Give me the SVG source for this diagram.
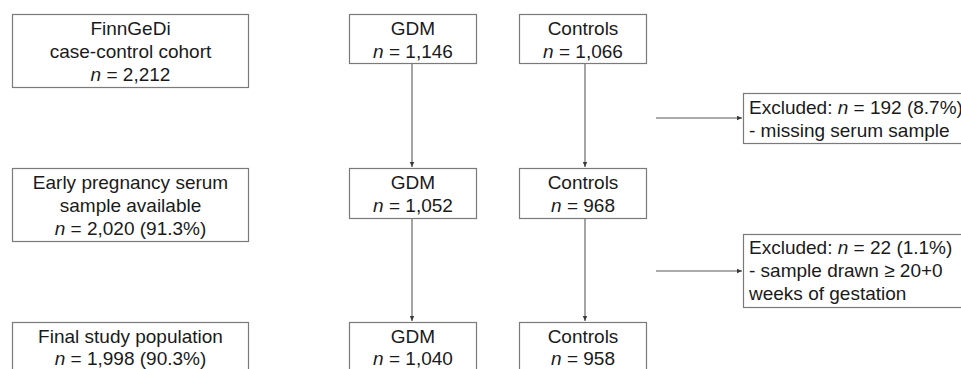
<svg xmlns="http://www.w3.org/2000/svg" width="961" height="369" viewBox="0 0 961 369">
<style>
.box{fill:#ffffff;stroke:#7a7a7a;stroke-width:1.2}
.t{font-family:"Liberation Sans",Arial,sans-serif;font-size:19px;fill:#1a1a1a}
.c{text-anchor:middle}
.ln{stroke:#5a5a5a;stroke-width:1.1;fill:none}
</style>
<defs>
<marker id="ah" markerWidth="6" markerHeight="6" refX="5" refY="3" orient="auto" markerUnits="userSpaceOnUse">
<path d="M0,0.8 L5,3 L0,5.2 Z" fill="#3a3a3a"/>
</marker>
</defs>
<rect width="961" height="369" fill="#ffffff"/>
<g id="connectors">
<line class="ln" x1="412" y1="63" x2="412" y2="167" marker-end="url(#ah)"/>
<line class="ln" x1="585" y1="63" x2="585" y2="167" marker-end="url(#ah)"/>
<line class="ln" x1="412" y1="218" x2="412" y2="321" marker-end="url(#ah)"/>
<line class="ln" x1="585" y1="218" x2="585" y2="321" marker-end="url(#ah)"/>
<line class="ln" x1="656" y1="118" x2="742" y2="118" marker-end="url(#ah)"/>
<line class="ln" x1="656" y1="271" x2="742" y2="271" marker-end="url(#ah)"/>
</g>
<g id="cohort">
<rect class="box" x="12.5" y="14.5" width="236" height="73"/>
<text class="t c" x="130.5" y="35">FinnGeDi</text>
<text class="t c" x="130.5" y="58">case-control cohort</text>
<text class="t c" x="130.5" y="81"><tspan font-style="italic">n</tspan> = 2,212</text>
</g>
<g id="gdm1">
<rect class="box" x="349.5" y="14.5" width="127" height="49"/>
<text class="t c" x="413" y="35">GDM</text>
<text class="t c" x="413" y="58"><tspan font-style="italic">n</tspan> = 1,146</text>
</g>
<g id="controls1">
<rect class="box" x="519.5" y="14.5" width="127" height="49"/>
<text class="t c" x="583" y="35">Controls</text>
<text class="t c" x="583" y="58"><tspan font-style="italic">n</tspan> = 1,066</text>
</g>
<g id="excluded1">
<rect class="box" x="743.5" y="93.5" width="230" height="50"/>
<text class="t" x="749" y="114">Excluded: <tspan font-style="italic">n</tspan> = 192 (8.7%)</text>
<text class="t" x="749" y="137">- missing serum sample</text>
</g>
<g id="serum">
<rect class="box" x="12.5" y="168.5" width="236" height="73"/>
<text class="t c" x="130.5" y="189">Early pregnancy serum</text>
<text class="t c" x="130.5" y="212">sample available</text>
<text class="t c" x="130.5" y="235"><tspan font-style="italic">n</tspan> = 2,020 (91.3%)</text>
</g>
<g id="gdm2">
<rect class="box" x="349.5" y="168.5" width="127" height="50"/>
<text class="t c" x="413" y="189">GDM</text>
<text class="t c" x="413" y="212"><tspan font-style="italic">n</tspan> = 1,052</text>
</g>
<g id="controls2">
<rect class="box" x="519.5" y="168.5" width="127" height="50"/>
<text class="t c" x="583" y="189">Controls</text>
<text class="t c" x="583" y="212"><tspan font-style="italic">n</tspan> = 968</text>
</g>
<g id="excluded2">
<rect class="box" x="743.5" y="234.5" width="230" height="73"/>
<text class="t" x="749" y="254">Excluded: <tspan font-style="italic">n</tspan> = 22 (1.1%)</text>
<text class="t" x="749" y="277">- sample drawn ≥ 20+0</text>
<text class="t" x="749" y="300">weeks of gestation</text>
</g>
<g id="final">
<rect class="box" x="12.5" y="322.5" width="236" height="60"/>
<text class="t c" x="130.5" y="343">Final study population</text>
<text class="t c" x="130.5" y="365"><tspan font-style="italic">n</tspan> = 1,998 (90.3%)</text>
</g>
<g id="gdm3">
<rect class="box" x="349.5" y="322.5" width="127" height="60"/>
<text class="t c" x="413" y="343">GDM</text>
<text class="t c" x="413" y="365"><tspan font-style="italic">n</tspan> = 1,040</text>
</g>
<g id="controls3">
<rect class="box" x="519.5" y="322.5" width="127" height="60"/>
<text class="t c" x="583" y="343">Controls</text>
<text class="t c" x="583" y="365"><tspan font-style="italic">n</tspan> = 958</text>
</g>
</svg>
